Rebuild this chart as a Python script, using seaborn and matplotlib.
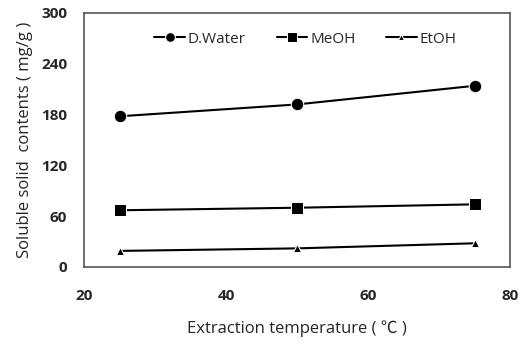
import matplotlib
matplotlib.use("Agg")
import matplotlib.pyplot as plt
import seaborn as sns
import pandas as pd

temps = [25, 50, 75]
water = [178, 192, 214]
meoh = [67, 70, 74]
etoh = [19, 22, 28]
series = ["D.Water", "MeOH", "EtOH"]

sns.set_theme(style="white")
plt.rcParams['font.family'] = ['Open Sans', 'Noto Sans CJK SC', 'DejaVu Sans']

df = pd.DataFrame({
    "temp": temps * 3,
    "value": water + meoh + etoh,
    "solvent": [series[0]] * 3 + [series[1]] * 3 + [series[2]] * 3,
})

fig = plt.figure(figsize=(5.2, 3.44), dpi=100)
ax = fig.add_axes([84/520, 1 - 267/344, (510-84)/520, (267-13)/344])

sns.lineplot(data=df, x="temp", y="value", hue="solvent", style="solvent",
             markers={"D.Water": "o", "MeOH": "s", "EtOH": "^"}, dashes=False,
             palette={"D.Water": "black", "MeOH": "black", "EtOH": "black"},
             markersize=8, linewidth=1.5, ax=ax, legend=True)
for ln, ms in zip(ax.lines, [9, 9, 6]):
    ln.set_markersize(ms)

ax.set_xlim(20, 80)
ax.set_ylim(0, 300)
ax.set_xticks([20, 40, 60, 80])
ax.set_yticks([0, 60, 120, 180, 240, 300])
ax.tick_params(axis='both', direction='in', length=4, width=0.8, color='#888888',
               labelsize=11, pad=12)
ax.tick_params(axis='x', pad=16)
for lab in ax.get_xticklabels() + ax.get_yticklabels():
    lab.set_fontweight('bold')
for s in ax.spines.values():
    s.set_color('#555555')
    s.set_linewidth(1.2)

ax.set_xlabel("Extraction temperature ( ℃ )", fontsize=12, labelpad=12)
ax.set_ylabel("Soluble solid  contents ( mg/g )", fontsize=12, labelpad=6)

handles, labels = ax.get_legend_handles_labels()
for h, ms in zip(handles, [7, 7, 5]):
    h.set_markersize(ms)
ax.legend(handles, labels, loc='upper center', ncol=3, frameon=False,
          fontsize=11, bbox_to_anchor=(0.52, 0.98), handlelength=2.0,
          handletextpad=0.2, columnspacing=2.0)

fig.savefig("out.png", dpi=100)
